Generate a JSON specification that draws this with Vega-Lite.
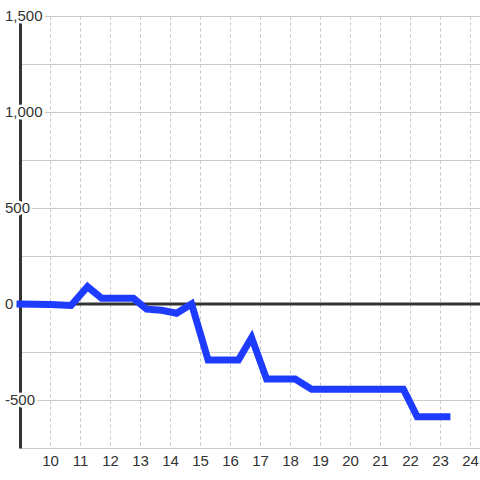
{
  "$schema": "https://vega.github.io/schema/vega-lite/v6.json",
  "width": 460,
  "height": 432,
  "autosize": {"type": "none"},
  "padding": {"left": 20, "top": 16, "right": 0, "bottom": 32},
  "background": "white",
  "config": {
    "view": {"stroke": null},
    "axis": {"labelOverlap": false, "title": null},
    "axisX": {"domain": false, "ticks": false, "labelFont": "Liberation Sans", "labelFontSize": 15, "labelColor": "#333333", "labelPadding": 5, "labelOverlap": false, "labelBound": false, "labelFlush": false, "grid": true, "gridColor": "#c4c4c4", "gridDash": [3, 3], "gridWidth": 1},
    "axisY": {"labels": false, "ticks": false, "domain": true, "domainColor": "#333333", "domainWidth": 3, "grid": true, "gridColor": "#cccccc", "gridWidth": 1}
  },
  "datasets": {
    "series": [
      {"x": 9.0, "y": 0},
      {"x": 10.0, "y": -3},
      {"x": 10.7, "y": -8},
      {"x": 11.25, "y": 90},
      {"x": 11.72, "y": 30},
      {"x": 12.78, "y": 30},
      {"x": 13.22, "y": -27},
      {"x": 13.72, "y": -33},
      {"x": 14.22, "y": -48},
      {"x": 14.72, "y": 0},
      {"x": 15.27, "y": -292},
      {"x": 16.28, "y": -292},
      {"x": 16.72, "y": -175},
      {"x": 17.22, "y": -391},
      {"x": 18.17, "y": -391},
      {"x": 18.72, "y": -444},
      {"x": 21.78, "y": -444},
      {"x": 22.24, "y": -587},
      {"x": 23.23, "y": -587}
    ],
    "ticks": [
      {"x": 9, "y": -500, "label": "-500"},
      {"x": 9, "y": 0, "label": "0"},
      {"x": 9, "y": 500, "label": "500"},
      {"x": 9, "y": 1000, "label": "1,000"},
      {"x": 9, "y": 1500, "label": "1,500"}
    ],
    "zero": [
      {"x": 9, "x2": 24.3333, "y": 0}
    ]
  },
  "encoding": {
    "x": {
      "field": "x", "type": "quantitative",
      "scale": {"domain": [9, 24.3333], "nice": false, "zero": false},
      "axis": {"title": null, "values": [10, 11, 12, 13, 14, 15, 16, 17, 18, 19, 20, 21, 22, 23, 24], "labelOverlap": false}
    },
    "y": {
      "field": "y", "type": "quantitative",
      "scale": {"domain": [-750, 1500], "nice": false, "zero": false},
      "axis": {"title": null, "values": [-750, -500, -250, 0, 250, 500, 750, 1000, 1250, 1500]}
    }
  },
  "layer": [
    {
      "data": {"name": "zero"},
      "mark": {"type": "rule", "color": "#333333", "strokeWidth": 3},
      "encoding": {
        "x2": {"field": "x2"}
      }
    },
    {
      "data": {"name": "series"},
      "mark": {"type": "line", "color": "#1e3cff", "strokeWidth": 7, "strokeCap": "square", "strokeJoin": "miter"}
    },
    {
      "data": {"name": "ticks"},
      "mark": {"type": "text", "align": "left", "baseline": "middle", "dx": -15, "font": "Liberation Sans", "fontSize": 15, "fill": "white", "stroke": "white", "strokeWidth": 5},
      "encoding": {
        "text": {"field": "label"}
      }
    },
    {
      "data": {"name": "ticks"},
      "mark": {"type": "text", "align": "left", "baseline": "middle", "dx": -15, "font": "Liberation Sans", "fontSize": 15, "fill": "#333333"},
      "encoding": {
        "text": {"field": "label"}
      }
    }
  ]
}
